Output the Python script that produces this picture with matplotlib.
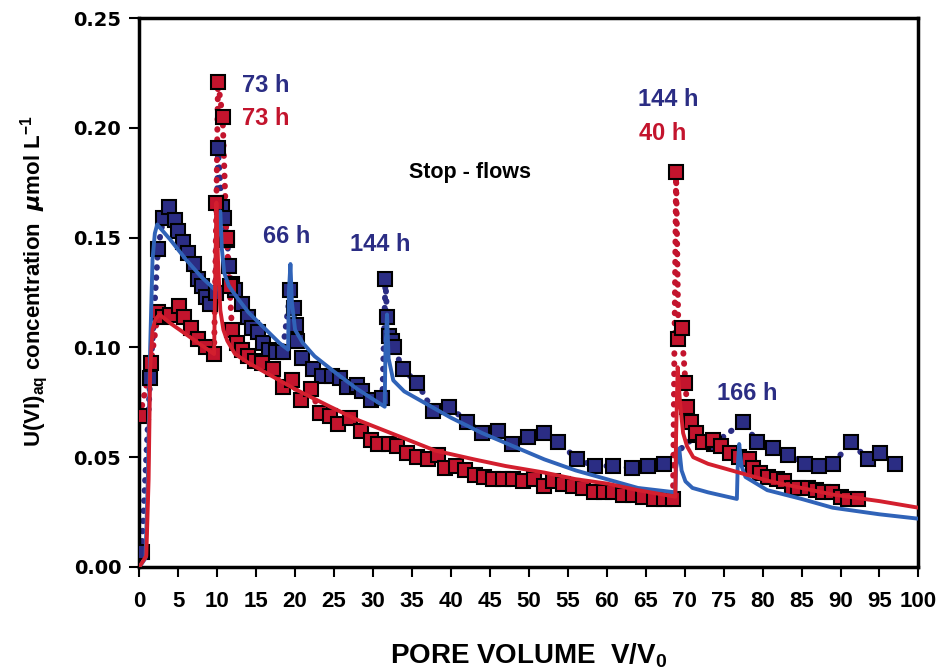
import numpy as np
import matplotlib
matplotlib.use("Agg")
import matplotlib.pyplot as plt

plt.rcParams['font.family'] = ['Liberation Sans', 'DejaVu Sans']
plt.rcParams['font.weight'] = 'bold'
plt.rcParams['mathtext.default'] = 'regular'

# measured data, column 1 (blue squares)
blue_x = [0.3, 1.4, 2.4, 3.1, 3.8, 4.6, 5.0, 5.6, 6.3, 7.0, 7.5, 8.1, 8.6, 9.1, 9.8,
          10.1, 10.6, 10.9, 11.3, 11.5, 11.9, 12.3, 13.2, 14.0, 14.5, 15.3, 15.9, 16.6,
          17.5, 18.4, 19.4, 19.8, 20.1, 20.3, 20.9, 22.3, 23.5, 24.8, 25.8, 26.7, 28.0,
          28.6, 29.7, 31.2, 31.6, 31.8, 32.0, 32.5, 32.7, 33.8, 35.7, 37.7, 39.8, 42.1,
          44.0, 46.0, 47.9, 49.9, 51.9, 53.8, 56.2, 58.5, 60.8, 63.3, 65.3, 67.3, 71.5,
          73.7, 77.5, 79.3, 81.3, 83.2, 85.4, 87.2, 89.1, 91.3, 93.5, 95.1, 97.0]
blue_y = [0.007, 0.086, 0.145, 0.159, 0.164, 0.158, 0.153, 0.148, 0.143, 0.138, 0.131, 0.128,
          0.123, 0.120, 0.125, 0.191, 0.164, 0.159, 0.149, 0.137, 0.129, 0.126, 0.120, 0.114,
          0.109, 0.107, 0.102, 0.099, 0.098, 0.098, 0.126, 0.118, 0.110, 0.103, 0.095, 0.090,
          0.087, 0.087, 0.086, 0.082, 0.083, 0.080, 0.076, 0.077, 0.131, 0.114, 0.105, 0.103,
          0.100, 0.090, 0.084, 0.071, 0.073, 0.066, 0.061, 0.062, 0.056, 0.059, 0.061, 0.057,
          0.049, 0.046, 0.046, 0.045, 0.046, 0.047, 0.060, 0.056, 0.066, 0.057, 0.054, 0.051,
          0.047, 0.046, 0.047, 0.057, 0.049, 0.052, 0.047]

# measured data, column 2 (red squares)
red_x = [0.1, 1.5, 2.4, 3.0, 4.0, 5.1, 5.7, 6.6, 7.6, 8.6, 9.6, 9.9, 10.1, 10.7, 11.2,
         11.6, 11.9, 12.6, 13.2, 14.0, 14.8, 15.8, 17.1, 18.4, 19.6, 20.7, 22.0, 23.2,
         24.5, 25.5, 27.1, 28.4, 29.7, 30.7, 32.0, 33.1, 34.4, 35.7, 37.0, 38.3, 39.3,
         40.6, 41.8, 43.1, 44.2, 45.4, 46.7, 48.0, 49.3, 50.6, 51.9, 53.1, 54.4, 55.7,
         57.0, 58.3, 59.6, 60.8, 62.1, 63.4, 64.7, 66.0, 67.3, 68.5, 68.9, 69.2, 69.6,
         70.1, 70.3, 70.8, 71.4, 72.4, 73.6, 74.7, 75.8, 77.0, 78.2, 78.8, 79.7, 80.7,
         81.9, 82.7, 83.8, 84.6, 85.8, 86.8, 87.8, 88.9, 90.0, 90.9, 92.2]
red_y = [0.069, 0.093, 0.116, 0.114, 0.115, 0.119, 0.114, 0.109, 0.104, 0.100, 0.097, 0.166,
         0.221, 0.205, 0.150, 0.128, 0.108, 0.102, 0.099, 0.096, 0.094, 0.093, 0.090, 0.082,
         0.085, 0.076, 0.081, 0.070, 0.069, 0.065, 0.068, 0.062, 0.058, 0.056, 0.056, 0.055,
         0.052, 0.050, 0.049, 0.051, 0.045, 0.046, 0.044, 0.042, 0.041, 0.040, 0.040, 0.040,
         0.039, 0.040, 0.037, 0.039, 0.038, 0.037, 0.036, 0.034, 0.034, 0.034, 0.033, 0.033,
         0.032, 0.031, 0.031, 0.031, 0.180, 0.104, 0.109, 0.084, 0.073, 0.066, 0.061, 0.057,
         0.058, 0.055, 0.052, 0.050, 0.049, 0.045, 0.043, 0.041, 0.040, 0.039, 0.036, 0.036,
         0.036, 0.035, 0.034, 0.034, 0.032, 0.031, 0.031]

# model curves
bline_x = [0, 0.8, 1.1, 1.4, 1.7, 2.0, 2.3, 4, 6, 8, 9.8, 10.0, 10.4, 10.6, 10.9, 11.5,
           12.5, 14, 16, 18, 19.1, 19.2, 19.4, 19.6, 20.0, 21, 22.5, 25, 28, 31.5, 31.6,
           31.8, 32.0, 32.6, 34, 36.5, 40, 44, 48, 52, 56, 60, 64, 68.8, 68.9, 69.3, 69.6,
           70.1, 71, 73, 76.7, 76.8, 77.0, 77.3, 77.8, 80.6, 85, 89, 95, 100]
bline_y = [0, 0.004, 0.04, 0.10, 0.14, 0.152, 0.156, 0.149, 0.140, 0.132, 0.126, 0.150,
           0.162, 0.145, 0.134, 0.128, 0.123, 0.116, 0.109, 0.102, 0.099, 0.125, 0.138,
           0.120, 0.108, 0.102, 0.096, 0.089, 0.081, 0.073, 0.100, 0.115, 0.095, 0.085,
           0.080, 0.075, 0.068, 0.061, 0.055, 0.049, 0.044, 0.040, 0.036, 0.034, 0.045,
           0.054, 0.044, 0.039, 0.036, 0.034, 0.031, 0.045, 0.056, 0.046, 0.041, 0.035,
           0.031, 0.027, 0.024, 0.022]

rline_x = [0, 0.9, 1.2, 1.4, 1.7, 2.1, 2.6, 4, 6, 8, 9.6, 9.75, 9.9, 10.1, 10.4, 10.8,
           11.3, 12.3, 14, 16, 20, 24.5, 28, 33, 38, 43, 47, 52, 56, 60, 64, 68.8, 68.9,
           69.1, 69.4, 69.8, 70.3, 71.1, 73, 77, 81, 85, 89, 95, 100]
rline_y = [0, 0.005, 0.04, 0.09, 0.108, 0.113, 0.115, 0.111, 0.106, 0.101, 0.097, 0.130,
           0.166, 0.140, 0.117, 0.108, 0.103, 0.097, 0.093, 0.089, 0.081, 0.073, 0.067,
           0.060, 0.053, 0.049, 0.046, 0.043, 0.040, 0.038, 0.035, 0.032, 0.060, 0.091,
           0.075, 0.061, 0.055, 0.050, 0.047, 0.043, 0.039, 0.036, 0.033, 0.030, 0.027]

navy = '#2b2d84'
dark_red = '#c3142d'
line_blue = '#3063b8'
line_red = '#d31f2e'

fig = plt.figure(figsize=(9.41, 6.71), dpi=100)
ax = fig.add_axes([0.148, 0.155, 0.828, 0.818])

dot = (0, (0.1, 1.6))
ax.plot(blue_x, blue_y, color=navy, lw=4.3, linestyle=dot, dash_capstyle='round', zorder=2)
ax.plot(red_x, red_y, color=dark_red, lw=4.3, linestyle=dot, dash_capstyle='round', zorder=2)
ax.plot(blue_x, blue_y, 's', ms=9.5, mfc=navy, mec='black', mew=1.5, zorder=3)
ax.plot(red_x, red_y, 's', ms=9.5, mfc=dark_red, mec='black', mew=1.5, zorder=3)
ax.plot(bline_x, bline_y, color=line_blue, lw=2.8, zorder=4)
ax.plot(rline_x, rline_y, color=line_red, lw=2.8, zorder=4)

ax.set_xlim(0, 100)
ax.set_ylim(0, 0.25)
ax.set_xticks(np.arange(0, 101, 5))
ax.set_yticks(np.arange(0, 0.251, 0.05))
ax.set_yticklabels(['0.00', '0.05', '0.10', '0.15', '0.20', '0.25'], fontsize=14,
                   fontweight='bold', family='DejaVu Sans')
ax.set_xticklabels([str(v) for v in range(0, 101, 5)], fontsize=16, fontweight='bold')
ax.tick_params(direction='out', length=7, width=1.5, pad=10)
ax.tick_params(axis='y', pad=6)
for s in ax.spines.values():
    s.set_linewidth(2.5)

ax.set_xlabel('PORE VOLUME  V/V$_0$', fontsize=20, fontweight='bold')
ax.xaxis.set_label_coords(0.5, -0.135)
ax.set_ylabel('U(VI)$_{aq}$ concentration  $\\mathit{\\mu}$mol L$^{-1}$', fontsize=16,
              fontweight='bold')
ax.yaxis.set_label_coords(-0.114, 0.52)

lbl = dict(fontsize=17, fontweight='bold', ha='left', va='center')
ax.text(13.2, 0.2195, '73 h', color=navy, **lbl)
ax.text(13.2, 0.2045, '73 h', color=dark_red, **lbl)
ax.text(15.9, 0.1505, '66 h', color=navy, **lbl)
ax.text(27.0, 0.1470, '144 h', color=navy, **lbl)
ax.text(42.5, 0.1795, 'Stop - flows', color='black', ha='center', va='center',
        fontsize=15.5, fontweight='bold')
ax.text(64.0, 0.2130, '144 h', color=navy, **lbl)
ax.text(64.2, 0.1975, '40 h', color=dark_red, **lbl)
ax.text(74.2, 0.0790, '166 h', color=navy, **lbl)

fig.savefig('out.png', dpi=100)
